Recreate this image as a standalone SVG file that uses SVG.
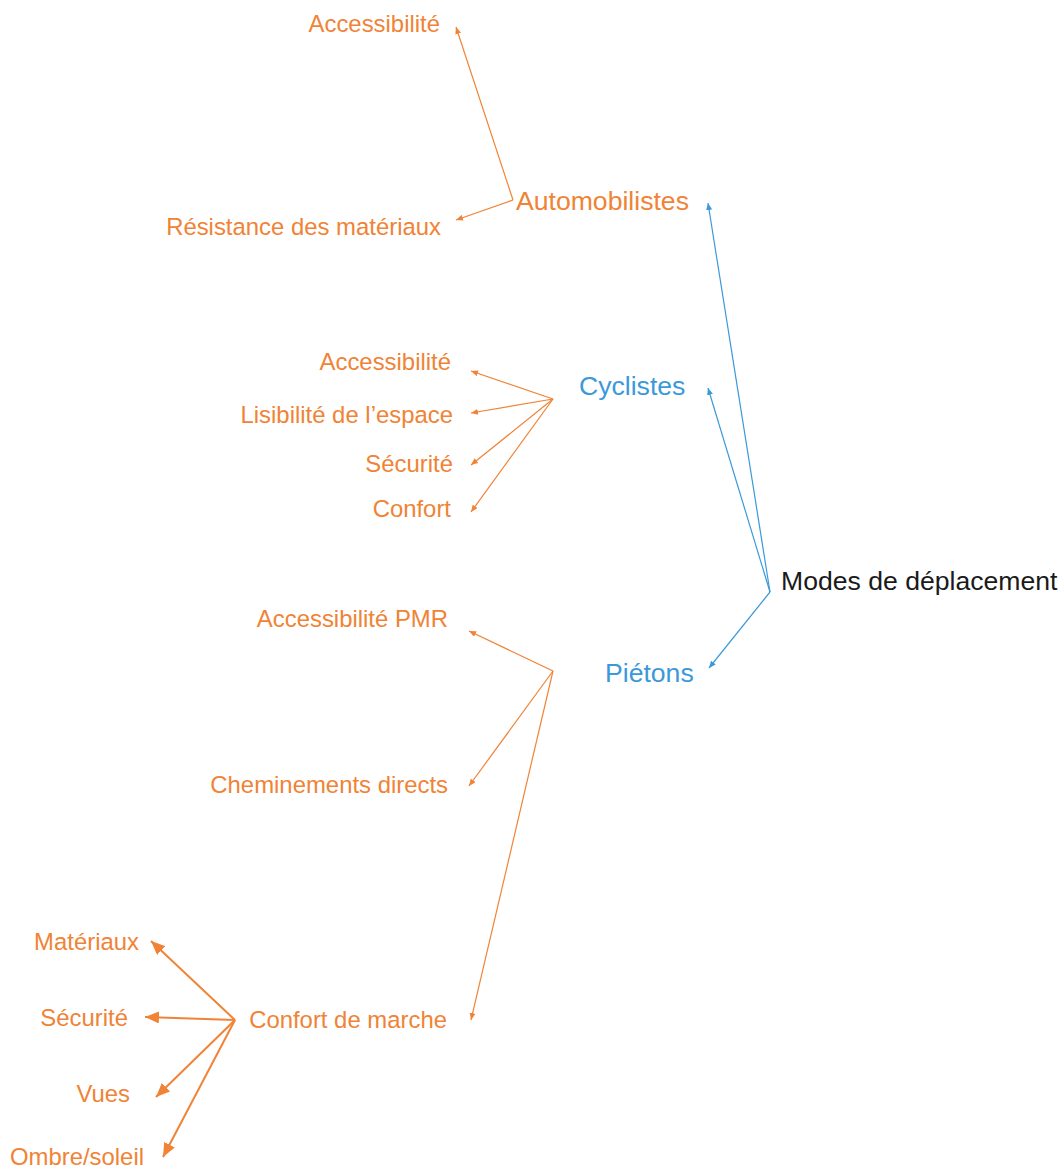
<svg xmlns="http://www.w3.org/2000/svg" width="1064" height="1173" viewBox="0 0 1064 1173">
<style>
text{font-family:"Liberation Sans",Arial,sans-serif}
.leaf{font-size:23.9px;fill:#F08336;text-anchor:end}
.l1{font-size:26.6px}
.org{fill:#F08336}
.blu{fill:#3B99D9}
.root{font-size:26.6px;fill:#1a1a1a}
.co{stroke:#F08336;stroke-width:1.2;fill:none;marker-end:url(#ao)}
.cb{stroke:#3B99D9;stroke-width:1.2;fill:none;marker-end:url(#ab)}
.cw{stroke:#F08336;stroke-width:2;fill:none;marker-end:url(#aw)}
</style>
<defs>
<marker id="ao" markerUnits="userSpaceOnUse" markerWidth="8" markerHeight="6" refX="7" refY="3" orient="auto"><path d="M0,0 L7,3 L0,6 Z" fill="#F08336"/></marker>
<marker id="ab" markerUnits="userSpaceOnUse" markerWidth="8" markerHeight="6" refX="7" refY="3" orient="auto"><path d="M0,0 L7,3 L0,6 Z" fill="#3B99D9"/></marker>
<marker id="aw" markerUnits="userSpaceOnUse" markerWidth="15" markerHeight="12" refX="14" refY="6" orient="auto"><path d="M0,0 L14,6 L0,12 Z" fill="#F08336"/></marker>
</defs>
<rect width="1064" height="1173" fill="#ffffff"/>
<g id="connectors">
<path class="cb" d="M770,592 L708,203"/>
<path class="cb" d="M770,592 L708,388"/>
<path class="cb" d="M770,592 L709,668"/>
<path class="co" d="M513,200 L456,27"/>
<path class="co" d="M513,200 L456,220"/>
<path class="co" d="M553,399 L471,371"/>
<path class="co" d="M553,399 L471,413"/>
<path class="co" d="M553,399 L471,465"/>
<path class="co" d="M553,399 L471,512"/>
<path class="co" d="M553,671 L469,631"/>
<path class="co" d="M553,671 L469,786"/>
<path class="co" d="M553,671 L471,1020"/>
<path class="cw" d="M235,1020 L151,941"/>
<path class="cw" d="M235,1020 L145,1017"/>
<path class="cw" d="M235,1020 L156,1097"/>
<path class="cw" d="M235,1020 L163,1157"/>
</g>
<g id="modes"><text class="root" x="781" y="590">Modes de déplacement</text></g>
<g id="automobilistes"><text class="l1 org" x="516" y="210">Automobilistes</text></g>
<g id="cyclistes"><text class="l1 blu" x="579" y="395">Cyclistes</text></g>
<g id="pietons"><text class="l1 blu" x="605" y="682">Piétons</text></g>
<g id="auto-access"><text class="leaf" x="440" y="32">Accessibilité</text></g>
<g id="auto-resist"><text class="leaf" x="441" y="235">Résistance des matériaux</text></g>
<g id="cyc-access"><text class="leaf" x="451" y="370">Accessibilité</text></g>
<g id="cyc-lisib"><text class="leaf" x="453" y="423">Lisibilité de l’espace</text></g>
<g id="cyc-secu"><text class="leaf" x="453" y="472">Sécurité</text></g>
<g id="cyc-confort"><text class="leaf" x="451" y="517">Confort</text></g>
<g id="pmr"><text class="leaf" x="448" y="627">Accessibilité PMR</text></g>
<g id="chemin"><text class="leaf" x="448" y="793">Cheminements directs</text></g>
<g id="confort-marche"><text class="leaf" x="447" y="1028">Confort de marche</text></g>
<g id="materiaux"><text class="leaf" x="139" y="950">Matériaux</text></g>
<g id="pie-secu"><text class="leaf" x="128" y="1026">Sécurité</text></g>
<g id="vues"><text class="leaf" x="130" y="1102">Vues</text></g>
<g id="ombre"><text class="leaf" x="144" y="1165">Ombre/soleil</text></g>
</svg>
